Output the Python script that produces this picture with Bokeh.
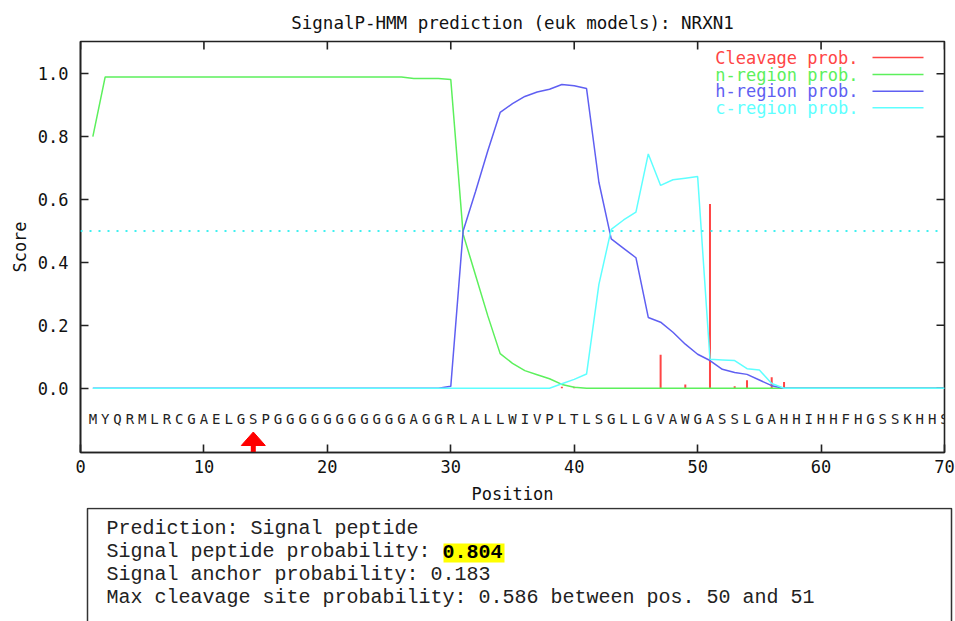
from bokeh.plotting import figure
from bokeh.models import Range1d, FixedTicker, PrintfTickFormatter, Span, Label
from bokeh.layouts import column
from bokeh.embed import file_html
from bokeh.resources import INLINE
from bokeh.core.properties import value

# ---------------- data ----------------
title_text = "SignalP-HMM prediction (euk models): NRXN1"
sequence = "MYQRMLRCGAELGSPGGGGGGGGGGGAGGRLALLWIVPLTLSGLLGVAWGASSLGAHHIHHFHGSSKHHS"
positions = list(range(1, 71))

cleavage = [
    0, 0, 0, 0, 0, 0, 0, 0, 0, 0,
    0, 0, 0, 0, 0, 0, 0, 0, 0, 0,
    0, 0, 0, 0, 0, 0, 0, 0, 0, 0,
    0, 0, 0, 0, 0, 0, 0, 0, 0.005, 0.005,
    0, 0, 0, 0, 0, 0, 0.106, 0, 0.012, 0,
    0.586, 0, 0.006, 0.025, 0, 0.035, 0.02, 0, 0, 0,
    0, 0, 0, 0, 0, 0, 0, 0, 0, 0,
]
n_region = [
    0.80, 0.99, 0.99, 0.99, 0.99, 0.99, 0.99, 0.99, 0.99, 0.99,
    0.99, 0.99, 0.99, 0.99, 0.99, 0.99, 0.99, 0.99, 0.99, 0.99,
    0.99, 0.99, 0.99, 0.99, 0.99, 0.99, 0.985, 0.985, 0.985, 0.982,
    0.49, 0.36, 0.23, 0.11, 0.079, 0.056, 0.043, 0.03, 0.012, 0.003,
    0, 0, 0, 0, 0, 0, 0, 0, 0, 0,
    0, 0, 0, 0, 0, 0, 0, 0, 0, 0,
    0, 0, 0, 0, 0, 0, 0, 0, 0, 0,
]
h_region = [
    0, 0, 0, 0, 0, 0, 0, 0, 0, 0,
    0, 0, 0, 0, 0, 0, 0, 0, 0, 0,
    0, 0, 0, 0, 0, 0, 0, 0, 0, 0.006,
    0.50, 0.625, 0.755, 0.877, 0.905, 0.928, 0.942, 0.951, 0.966, 0.962,
    0.953, 0.655, 0.475, 0.445, 0.415, 0.225, 0.21, 0.178, 0.14, 0.108,
    0.088, 0.06, 0.05, 0.044, 0.026, 0.008, 0, 0, 0, 0,
    0, 0, 0, 0, 0, 0, 0, 0, 0, 0,
]
c_region = [
    0, 0, 0, 0, 0, 0, 0, 0, 0, 0,
    0, 0, 0, 0, 0, 0, 0, 0, 0, 0,
    0, 0, 0, 0, 0, 0, 0, 0, 0, 0,
    0, 0, 0, 0, 0, 0, 0, 0, 0.014, 0.028,
    0.045, 0.33, 0.505, 0.535, 0.56, 0.745, 0.645, 0.663, 0.668, 0.673,
    0.092, 0.09, 0.088, 0.062, 0.058, 0.015, 0, 0, 0, 0,
    0, 0, 0, 0, 0, 0, 0, 0, 0, 0,
]
series_labels = ["Cleavage prob.", "n-region prob.", "h-region prob.", "c-region prob."]
threshold = 0.5
marked_position = 14
x_ticks = [0, 10, 20, 30, 40, 50, 60, 70]
y_ticks = [0.0, 0.2, 0.4, 0.6, 0.8, 1.0]

summary_lines = [
    ("Prediction: Signal peptide", None),
    ("Signal peptide probability: ", "0.804"),
    ("Signal anchor probability: 0.183", None),
    ("Max cleavage site probability: 0.586 between pos. 50 and 51", None),
]

# ---------------- layout / style ----------------
W = 955
H_TOP = 507
H_BOX = 621 - H_TOP
FRAME_L, FRAME_R, FRAME_T, FRAME_B = 80, 944, 41, 452
X_MIN, X_MAX = 0, 70
Y_MIN, Y_MAX = -0.2045, 1.1027
TICK_LEN = 8

RED = "#ff4545"
GREEN = "#5cf05c"
BLUE = "#5f5ff2"
CYAN = "#5effff"
INK = "#222222"
GP_FONT = "DejaVu Sans Mono"
GP_SIZE = "17px"


def xd(px):
    return X_MIN + (px - FRAME_L) / (FRAME_R - FRAME_L) * (X_MAX - X_MIN)


def yd(py):
    return Y_MAX - (py - FRAME_T) / (FRAME_B - FRAME_T) * (Y_MAX - Y_MIN)


p = figure(width=W, height=H_TOP, output_backend="svg", toolbar_location=None,
           x_range=Range1d(X_MIN, X_MAX), y_range=Range1d(Y_MIN, Y_MAX),
           min_border_left=FRAME_L, min_border_right=W - FRAME_R,
           min_border_top=FRAME_T, min_border_bottom=H_TOP - FRAME_B,
           title=title_text)
p.frame_align = False
p.background_fill_color = "white"
p.border_fill_color = "white"
p.outline_line_color = INK
p.outline_line_width = 1.6
p.grid.visible = False

p.title.align = "center"
p.title.text_font = GP_FONT
p.title.text_font_size = "17.5px"
p.title.text_font_style = "normal"
p.title.text_color = "#111111"
p.title.standoff = 18

xax = p.below[0]
yax = p.left[0]
for ax in (xax, yax):
    ax.axis_line_color = INK
    ax.axis_line_width = 1.6
    ax.major_tick_in = TICK_LEN
    ax.major_tick_out = 0
    ax.major_tick_line_color = INK
    ax.major_tick_line_width = 1.6
    ax.minor_tick_line_color = None
    ax.major_label_text_font = GP_FONT
    ax.major_label_text_font_size = GP_SIZE
    ax.major_label_text_color = "#111111"
    ax.axis_label_text_font = GP_FONT
    ax.axis_label_text_font_size = GP_SIZE
    ax.axis_label_text_font_style = "normal"
    ax.axis_label_text_color = "#111111"

xax.ticker = FixedTicker(ticks=x_ticks)
xax.axis_label = "Position"
xax.major_label_standoff = 7
xax.axis_label_standoff = 8
yax.ticker = FixedTicker(ticks=y_ticks)
yax.formatter = PrintfTickFormatter(format="%.1f")
yax.axis_label = "Score"
yax.major_label_standoff = 12
yax.axis_label_standoff = 5

# mirrored inward ticks on the top and right edges (gnuplot border ticks)
tx = xd(FRAME_R - TICK_LEN)
p.segment(x0=[tx] * len(y_ticks), x1=[X_MAX] * len(y_ticks), y0=y_ticks, y1=y_ticks,
          line_color=INK, line_width=1.6)
ty = yd(FRAME_T + TICK_LEN)
p.segment(x0=x_ticks, x1=x_ticks, y0=[ty] * len(x_ticks), y1=[Y_MAX] * len(x_ticks),
          line_color=INK, line_width=1.6)

# series
p.segment(x0=positions, y0=[0] * len(positions), x1=positions, y1=cleavage,
          line_color=RED, line_width=2)
p.line(positions, n_region, line_color=GREEN, line_width=1.5)
p.line(positions, h_region, line_color=BLUE, line_width=1.5)
p.line(positions, c_region, line_color=CYAN, line_width=1.5)
p.add_layout(Span(location=threshold, dimension="width", line_color="#40f0f0",
                  line_width=2, line_dash="2 7"))

# sequence letters
p.text(x=positions, y=[yd(418)] * len(positions), text=list(sequence),
       text_font=value(GP_FONT), text_font_size="14px", text_color=INK,
       text_align="center", text_baseline="middle")

# marker arrow
hw = xd(FRAME_L + 12) - xd(FRAME_L)
p.patch(x=[marked_position - hw, marked_position + hw, marked_position],
        y=[yd(445), yd(445), yd(431.5)], color="#ff0000")
p.segment(x0=[marked_position], x1=[marked_position], y0=[yd(456)], y1=[yd(444)],
          line_color="#ff0000", line_width=5)

# legend (text then sample line, gnuplot style)
colors = [RED, GREEN, BLUE, CYAN]
rows = [57, 74, 90.7, 107.3]
for lab, col, r in zip(series_labels, colors, rows):
    p.add_layout(Label(x=xd(858), y=yd(r), text=lab, text_color=col,
                       text_font=GP_FONT, text_font_size=GP_SIZE,
                       text_align="right", text_baseline="middle"))
p.segment(x0=[xd(872)] * 4, x1=[xd(923)] * 4, y0=[yd(r) for r in rows],
          y1=[yd(r) for r in rows], line_color=colors, line_width=1.5)

# ---------------- summary box ----------------
BOX_TOP = 508 - H_TOP   # box border position inside the lower figure
box = figure(width=W, height=H_BOX, output_backend="svg", toolbar_location=None,
             x_range=Range1d(0, W), y_range=Range1d(H_BOX, 0),
             x_axis_location=None, y_axis_location=None, min_border=0)
box.frame_align = False
box.outline_line_color = None
box.background_fill_color = "white"
box.border_fill_color = "white"
for g in box.grid:
    g.visible = False

box.quad(left=[87], right=[951], top=[BOX_TOP], bottom=[H_BOX + 40], fill_color=None,
         line_color="#333333", line_width=1.5)
box.quad(left=[443], right=[504], top=[BOX_TOP + 35], bottom=[BOX_TOP + 54],
         fill_color="#ffff00", line_color=None)

BOX_FONT = "Liberation Mono"
line_y = [BOX_TOP + 20, BOX_TOP + 43, BOX_TOP + 66, BOX_TOP + 89]
box.text(x=[106] * 4, y=line_y, text=[s for s, _ in summary_lines],
         text_font=value(BOX_FONT), text_font_size="20px", text_color=INK,
         text_align="left", text_baseline="middle")
hl = summary_lines[1][1]
box.text(x=[106 + 12 * len(summary_lines[1][0])], y=[line_y[1]], text=[hl],
         text_font=value(BOX_FONT), text_font_size="20px", text_font_style="bold",
         text_color="#000000", text_align="left", text_baseline="middle")

layout = column(p, box, spacing=0)
open("out.html", "w").write(file_html(layout, INLINE))
